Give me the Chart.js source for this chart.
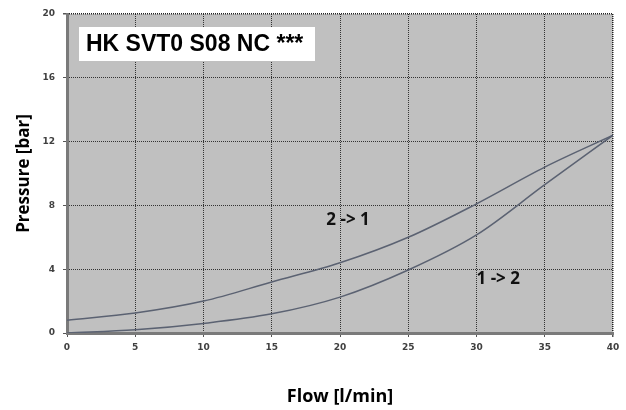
<!DOCTYPE html>
<html>
<head>
<meta charset="utf-8">
<script src="https://cdn.jsdelivr.net/npm/chart.js@4/dist/chart.umd.min.js"></script>
<style>
    html, body { margin: 0; padding: 0; background: #ffffff; }
    #chart { display: block; }
</style>
</head>
<body>
<canvas id="chart" width="626" height="410"></canvas>
<script>
// Pressure drop curves, HK SVT0 S08 NC

const flowValues = [0, 5, 10, 15, 20, 25, 30, 35, 40];
const pressure21 = [0.8, 1.25, 2.0, 3.2, 4.4, 6.0, 8.1, 10.4, 12.4];
const pressure12 = [0.0, 0.2, 0.6, 1.2, 2.25, 3.95, 6.15, 9.3, 12.4];
const yTicks = [0, 4, 8, 12, 16, 20];
const xTicks = [0, 5, 10, 15, 20, 25, 30, 35, 40];

const chartTitle = 'HK SVT0 S08 NC ***';
const curveLabels = ['2 -> 1', '1 -> 2'];

const lineColor = '#5b6272';

// Gray plot background
const plotBackground = {
    id: 'plotBackground',
    beforeDraw(chart) {
        const { ctx, chartArea } = chart;
        ctx.save();
        ctx.fillStyle = '#c0c0c0';
        ctx.fillRect(chartArea.left, chartArea.top, chartArea.right - chartArea.left, chartArea.bottom - chartArea.top);
        ctx.restore();
    }
};

// Title box and curve labels
const annotations = {
    id: 'annotations',
    afterDraw(chart) {
        const { ctx } = chart;
        const xs = chart.scales.x;
        const ys = chart.scales.y;
        ctx.save();

        // white title box
        ctx.fillStyle = '#ffffff';
        ctx.fillRect(79, 27, 236, 34);
        ctx.fillStyle = '#000000';
        ctx.font = 'bold 23px "Liberation Sans", Arial, sans-serif';
        ctx.textBaseline = 'middle';
        ctx.textAlign = 'left';
        ctx.fillText(chartTitle, 86, 45);

        // curve labels
        ctx.font = 'bold 17px "Open Sans", sans-serif';
        ctx.fillStyle = '#111111';
        ctx.fillText(curveLabels[0], xs.getPixelForValue(19.0), ys.getPixelForValue(7.1));
        ctx.fillText(curveLabels[1], xs.getPixelForValue(30.0), ys.getPixelForValue(3.35));
        ctx.restore();
    }
};

const ctx = document.getElementById('chart');

new Chart(ctx, {
    type: 'line',
    data: {
        labels: flowValues,
        datasets: [
            {
                label: curveLabels[0],
                data: flowValues.map((x, i) => ({ x: x, y: pressure21[i] })),
                borderColor: lineColor,
                borderWidth: 1.5,
                pointRadius: 0,
                cubicInterpolationMode: 'monotone',
                fill: false,
            },
            {
                label: curveLabels[1],
                data: flowValues.map((x, i) => ({ x: x, y: pressure12[i] })),
                borderColor: lineColor,
                borderWidth: 1.5,
                pointRadius: 0,
                cubicInterpolationMode: 'monotone',
                fill: false,
            }
        ]
    },
    options: {
        responsive: false,
        animation: false,
        devicePixelRatio: 1,
        layout: {
            padding: { left: 0, right: 13, top: 14, bottom: 0 }
        },
        plugins: {
            legend: { display: false },
            tooltip: { enabled: false }
        },
        scales: {
            x: {
                type: 'linear',
                min: 0,
                max: 40,
                afterBuildTicks: function(scale) {
                    scale.ticks = xTicks.map(v => ({ value: v }));
                },
                afterFit: function(scale) {
                    scale.height = 77;
                },
                grid: {
                    color: function(context) {
                        return context.tick && context.tick.value === 40 ? '#222222' : '#333333';
                    },
                    lineWidth: function(context) {
                        return context.tick && context.tick.value === 40 ? 1.5 : 1;
                    },
                    tickLength: 4,
                    tickColor: '#555555',
                },
                border: {
                    display: true,
                    color: '#7a7a7a',
                    width: 3,
                    dash: [1, 1],
                },
                ticks: {
                    color: '#404040',
                    padding: 5,
                    maxRotation: 0,
                    font: { family: '"DejaVu Sans", sans-serif', size: 9, weight: 'bold' }
                },
                title: {
                    display: true,
                    text: 'Flow [l/min]',
                    color: '#000000',
                    padding: { top: 0, bottom: 2 },
                    font: { family: '"Open Sans", sans-serif', size: 18, weight: 'bold' }
                }
            },
            y: {
                type: 'linear',
                min: 0,
                max: 20,
                afterBuildTicks: function(scale) {
                    scale.ticks = yTicks.map(v => ({ value: v }));
                },
                afterFit: function(scale) {
                    scale.width = 67;
                },
                grid: {
                    color: function(context) {
                        return context.tick && context.tick.value === 20 ? '#222222' : '#333333';
                    },
                    lineWidth: function(context) {
                        return context.tick && context.tick.value === 20 ? 1.5 : 1;
                    },
                    tickLength: 4,
                    tickColor: '#555555',
                },
                border: {
                    display: true,
                    color: '#7a7a7a',
                    width: 3,
                    dash: [1, 1],
                },
                ticks: {
                    color: '#404040',
                    padding: 8,
                    font: { family: '"DejaVu Sans", sans-serif', size: 9, weight: 'bold' }
                },
                title: {
                    display: true,
                    text: 'Pressure [bar]',
                    color: '#000000',
                    padding: { top: 14, bottom: 0 },
                    font: { family: '"Open Sans", sans-serif', size: 17, weight: 'bold' }
                }
            }
        }
    },
    plugins: [plotBackground, annotations]
});
</script>
</body>
</html>
